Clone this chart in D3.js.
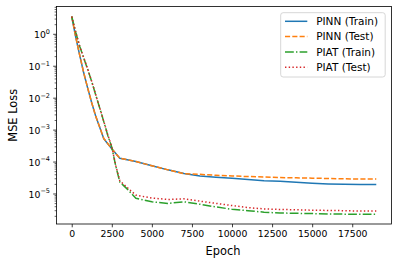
<!DOCTYPE html>
<html>
<head>
<meta charset="utf-8">
<script src="https://cdn.jsdelivr.net/npm/d3@7"></script>
<style>
  html, body { margin: 0; padding: 0; background: #fff; }
  svg { display: block; font-family: "DejaVu Sans", sans-serif; }
</style>
</head>
<body>
<svg id="chart" width="397" height="265"></svg>
<script>
// ---- data ----
const pinnTrainEpochs = [0,250,500,750,1000,1250,1500,1750,2000,2500,3000,4000,5000,6000,7000,8000,9000,10000,11000,12000,13000,14000,15000,16000,17000,18000,19000];
const pinnTrainLoss   = [3.47,0.79,0.21,0.059,0.0195,6.8e-3,2.6e-3,1.17e-3,5.2e-4,2.5e-4,1.26e-4,1.0e-4,7.4e-5,5.5e-5,4.2e-5,3.55e-5,3.24e-5,3.0e-5,2.75e-5,2.5e-5,2.4e-5,2.24e-5,2.1e-5,2.0e-5,1.95e-5,1.9e-5,1.9e-5];

const pinnTestEpochs  = [0,250,500,750,1000,1250,1500,1750,2000,2500,3000,4000,5000,6000,7000,8000,9000,10000,11000,12000,13000,14000,15000,16000,17000,18000,19000];
const pinnTestLoss    = [3.47,0.80,0.21,0.060,0.0197,6.9e-3,2.6e-3,1.18e-3,5.3e-4,2.5e-4,1.27e-4,1.0e-4,7.4e-5,5.5e-5,4.2e-5,3.98e-5,3.72e-5,3.55e-5,3.39e-5,3.31e-5,3.16e-5,3.09e-5,3.02e-5,2.95e-5,2.88e-5,2.82e-5,2.82e-5];

const piatTrainEpochs = [0,250,500,750,1000,1250,1500,1750,2000,2250,2500,2750,3000,3500,4000,5000,6000,7000,8000,9000,10000,11000,12000,13000,14000,15000,16000,17000,18000,19000];
const piatTrainLoss   = [3.47,1.12,0.40,0.174,0.076,0.0316,0.012,4.7e-3,1.78e-3,6.6e-4,2.8e-4,7.1e-5,2.3e-5,1.32e-5,7.1e-6,5.5e-6,4.9e-6,5.5e-6,4.6e-6,3.8e-6,3.2e-6,2.9e-6,2.6e-6,2.45e-6,2.4e-6,2.35e-6,2.3e-6,2.26e-6,2.24e-6,2.24e-6];

const piatTestEpochs  = [0,250,500,750,1000,1250,1500,1750,2000,2250,2500,2750,3000,3500,4000,5000,6000,7000,8000,9000,10000,11000,12000,13000,14000,15000,16000,17000,18000,19000];
const piatTestLoss    = [3.47,1.13,0.41,0.178,0.078,0.0322,0.0123,4.8e-3,1.82e-3,6.8e-4,2.9e-4,7.4e-5,2.5e-5,1.48e-5,8.9e-6,7.2e-6,6.5e-6,6.8e-6,5.75e-6,4.9e-6,4.2e-6,3.6e-6,3.3e-6,3.16e-6,3.1e-6,3.0e-6,2.95e-6,2.9e-6,2.82e-6,2.82e-6];

const seriesNames = ["PINN (Train)", "PINN (Test)", "PIAT (Train)", "PIAT (Test)"];
const xTickValues = [0,2500,5000,7500,10000,12500,15000,17500];
const yTickExponents = [0,-1,-2,-3,-4,-5];

// ---- layout ----
const svg = d3.select("#chart");
const L = 56.5, R = 391.5, T = 6.5, B = 224;
const x = d3.scaleLinear().domain([-950, 19950]).range([L, R]);
const y = d3.scaleLog().domain([Math.pow(10, 0.855), Math.pow(10, -5.955)]).range([T, B]);

const series = [
  {name: seriesNames[0], ep: pinnTrainEpochs, v: pinnTrainLoss, color: "#1f77b4", dash: null},
  {name: seriesNames[1], ep: pinnTestEpochs,  v: pinnTestLoss,  color: "#ff7f0e", dash: "5.1,2.2"},
  {name: seriesNames[2], ep: piatTrainEpochs, v: piatTrainLoss, color: "#2ca02c", dash: "8.8,2.2,1.4,2.2"},
  {name: seriesNames[3], ep: piatTestEpochs,  v: piatTestLoss,  color: "#d62728", dash: "1.4,2.3"}
];

const line = d3.line().x(d => x(d[0])).y(d => y(d[1]));
const plot = svg.append("g");
plot.append("defs").append("clipPath").attr("id","clip").append("rect")
  .attr("x", L).attr("y", T).attr("width", R-L).attr("height", B-T);
series.forEach(s => {
  plot.append("path")
    .attr("clip-path","url(#clip)")
    .attr("d", line(s.ep.map((e,i) => [e, s.v[i]])))
    .attr("fill","none").attr("stroke", s.color).attr("stroke-width", 1.5)
    .attr("stroke-dasharray", s.dash).attr("stroke-linecap","butt").attr("stroke-linejoin","round");
});

// ---- axes ----
const tickFont = 9.3;
const xAxis = d3.axisBottom(x).tickValues(xTickValues).tickSize(3.3).tickPadding(3.2).tickFormat(d3.format("d"));
const gx = svg.append("g").attr("transform", `translate(0,${B})`).call(xAxis);
gx.select(".domain").remove();
gx.selectAll(".tick line").attr("stroke","#000").attr("stroke-width",0.75);
gx.selectAll(".tick text").attr("font-size", tickFont).attr("fill","#000").attr("font-family","DejaVu Sans");

// minor y ticks
const minor = [];
for (let e = -6; e <= 0; e++) for (let m = 2; m <= 9; m++) {
  const v = m * Math.pow(10, e);
  if (v >= y.domain()[1] && v <= y.domain()[0]) minor.push(v);
}
const gym = svg.append("g").attr("transform", `translate(${L},0)`)
  .call(d3.axisLeft(y).tickValues(minor).tickSize(1.9).tickFormat(""));
gym.select(".domain").remove();
gym.selectAll(".tick line").attr("stroke","#000").attr("stroke-width",0.6);

const majorVals = yTickExponents.map(e => Math.pow(10, e));
const gy = svg.append("g").attr("transform", `translate(${L},0)`)
  .call(d3.axisLeft(y).tickValues(majorVals).tickSize(3.3).tickFormat(""));
gy.select(".domain").remove();
gy.selectAll(".tick line").attr("stroke","#000").attr("stroke-width",0.75);
gy.selectAll(".tick").each(function(d, i) {
  const e = yTickExponents[i];
  const t = d3.select(this).append("text")
    .attr("x", -6.5).attr("dy", "0.38em").attr("text-anchor","end")
    .attr("font-size", tickFont).attr("fill","#000").attr("font-family","DejaVu Sans");
  t.append("tspan").text("10");
  t.append("tspan").attr("font-size", tickFont*0.7).attr("dy", -4.2).text(e < 0 ? "\u2212" + (-e) : String(e));
});

// frame
svg.append("rect").attr("x", L).attr("y", T).attr("width", R-L).attr("height", B-T)
  .attr("fill","none").attr("stroke","#000").attr("stroke-width",0.8);

// axis labels
svg.append("text").attr("x", (L+R)/2 - 1).attr("y", 254.5).attr("text-anchor","middle")
  .attr("font-size", 11.4).attr("fill","#000").text("Epoch");
svg.append("text").attr("transform", `translate(16.5,${(T+B)/2}) rotate(-90)`).attr("text-anchor","middle")
  .attr("font-size", 11.4).attr("fill","#000").text("MSE Loss");

// legend
const lg = svg.append("g");
lg.append("rect").attr("x", 280.7).attr("y", 12.7).attr("width", 104.5).attr("height", 64.3)
  .attr("rx", 2.5).attr("fill","#fff").attr("fill-opacity",0.8).attr("stroke","#cccccc").attr("stroke-width",0.8);
const rowY = [21.3, 36.6, 51.9, 67.2];
series.forEach((s, i) => {
  lg.append("line").attr("x1", 285).attr("x2", 307.3).attr("y1", rowY[i]).attr("y2", rowY[i])
    .attr("stroke", s.color).attr("stroke-width", 1.5).attr("stroke-dasharray", s.dash);
  lg.append("text").attr("x", 316.2).attr("y", rowY[i]).attr("dy","0.36em")
    .attr("font-size", 10.5).attr("fill","#000").text(s.name);
});
</script>
</body>
</html>
